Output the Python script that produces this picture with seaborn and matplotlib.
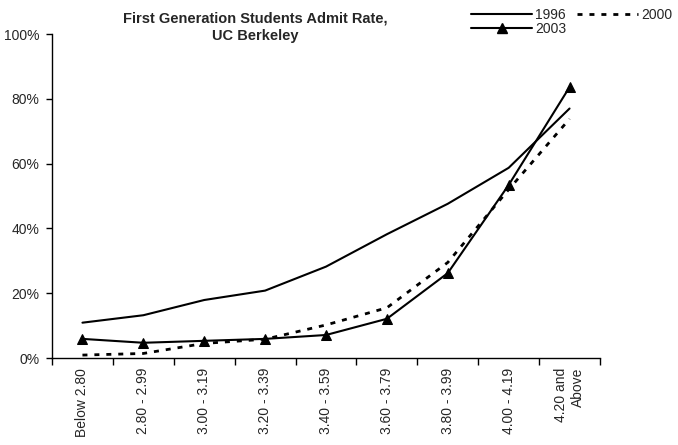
import matplotlib
matplotlib.use("Agg")
import matplotlib.pyplot as plt
from matplotlib.lines import Line2D
from matplotlib.ticker import FixedLocator, PercentFormatter
import seaborn as sns
import pandas as pd

categories = ["Below 2.80", "2.80 - 2.99", "3.00 - 3.19", "3.20 - 3.39",
              "3.40 - 3.59", "3.60 - 3.79", "3.80 - 3.99", "4.00 - 4.19",
              "4.20 and\nAbove"]
rate_1996 = [10.9, 13.2, 17.9, 20.8, 28.2, 38.2, 47.6, 58.7, 77.0]
rate_2000 = [0.9, 1.4, 4.5, 5.8, 10.2, 15.5, 29.5, 52.0, 73.8]
rate_2003 = [5.9, 4.7, 5.3, 5.9, 7.1, 12.1, 26.2, 53.4, 83.6]
y_ticks = [0, 20, 40, 60, 80, 100]

sns.set_theme(style="white")
plt.rcParams["font.family"] = ["Liberation Sans", "DejaVu Sans"]

fig = plt.figure(figsize=(6.78, 4.45), dpi=100)
ax = fig.add_axes([52 / 678, 1 - 358 / 445, 548 / 678, 324 / 445])

pos = list(range(len(categories)))
df = pd.DataFrame({"pos": pos, "y1996": rate_1996, "y2000": rate_2000, "y2003": rate_2003})

sns.lineplot(data=df, x="pos", y="y1996", ax=ax, color="black", linewidth=1.5)
sns.lineplot(data=df, x="pos", y="y2000", ax=ax, color="black", linewidth=2.0,
             linestyle=(0, (1.8, 2.5)))
sns.lineplot(data=df, x="pos", y="y2003", ax=ax, color="black", linewidth=1.5,
             marker="^", markersize=7, markeredgecolor="black", markerfacecolor="black")

ax.set_xlim(-0.5, len(categories) - 0.5)
ax.set_ylim(0, 100)
ax.set_xlabel("")
ax.set_ylabel("")

ax.set_xticks(pos)
ax.set_xticklabels(categories, rotation=90, ha="center", va="top",
                   multialignment="right", fontsize=10)
ax.xaxis.set_minor_locator(FixedLocator([p - 0.5 for p in pos] + [len(categories) - 0.5]))
ax.tick_params(axis="x", which="major", length=0, pad=7)
ax.tick_params(axis="x", which="minor", bottom=True, length=5, width=1, direction="out",
               color="black")

ax.set_yticks(y_ticks)
ax.yaxis.set_major_formatter(PercentFormatter(decimals=0))
ax.tick_params(axis="y", which="major", left=True, length=4, width=1, direction="out",
               color="black", labelsize=10, pad=5)

for s in ["top", "right"]:
    ax.spines[s].set_visible(False)
for s in ["left", "bottom"]:
    ax.spines[s].set_color("black")
    ax.spines[s].set_linewidth(1.0)
ax.grid(False)

fig.text(255 / 678, 1 - 27.5 / 445, "First Generation Students Admit Rate,\nUC Berkeley",
         ha="center", va="center", fontsize=10.5, fontweight="bold", linespacing=1.3)

handles = [
    Line2D([], [], color="black", linewidth=1.5),
    Line2D([], [], color="black", linewidth=1.5, marker="^", markersize=7),
    Line2D([], [], color="black", linewidth=2.0, linestyle=(0, (1.8, 2.5))),
]
labels = ["1996", "2003", "2000"]
fig.legend(handles, labels, ncol=2, loc="upper right", bbox_to_anchor=(1.006, 1.004),
           frameon=False, fontsize=10, handlelength=4.4, handletextpad=0.2,
           columnspacing=0.8, labelspacing=0.0, borderpad=0.2)

fig.savefig("out.png", dpi=100, facecolor="white")
